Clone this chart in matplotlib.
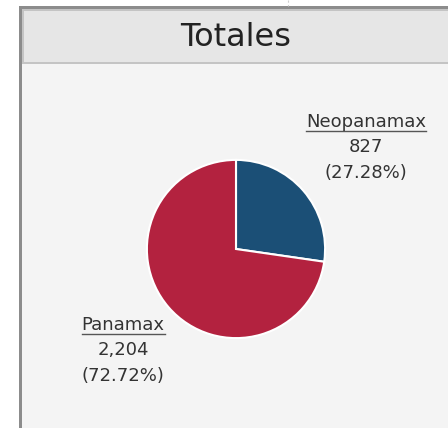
import matplotlib
matplotlib.use("Agg")
import matplotlib.pyplot as plt
from matplotlib.patches import Rectangle
from matplotlib.lines import Line2D

# data
categories = ["Neopanamax", "Panamax"]
values = [827, 2204]
colors = ["#1b4f76", "#b3223f"]

W, H = 448, 428
fig = plt.figure(figsize=(W / 100, H / 100), dpi=100)
fig.patch.set_facecolor("white")


def px(x, y):
    # pixel coords (top-left origin) -> figure fraction
    return x / W, 1 - y / H


# panel frame + header
fig.patches.append(Rectangle(px(19, H), (W - 19) / W, (H - 6) / H,
                             transform=fig.transFigure, facecolor="#8c8c8c",
                             edgecolor="none", zorder=0))
fig.patches.append(Rectangle(px(22, H), (W - 22) / W, (H - 9) / H,
                             transform=fig.transFigure, facecolor="#f4f4f4",
                             edgecolor="none", zorder=1))
fig.patches.append(Rectangle(px(22, 64), (W - 22) / W, 55 / H,
                             transform=fig.transFigure, facecolor="#c4c4c4",
                             edgecolor="none", zorder=2))
fig.patches.append(Rectangle(px(24, 62), (W - 24) / W, 51 / H,
                             transform=fig.transFigure, facecolor="#e6e6e6",
                             edgecolor="none", zorder=3))
# faint dashed guide in the top margin
fig.add_artist(Line2D([288 / W, 288 / W], [1 - 0 / H, 1 - 6 / H],
                      color="#d0d0d0", lw=0.8, ls=(0, (2, 2)), zorder=4))

fig.text(236 / W, 1 - 38 / H, "Totales", ha="center", va="center",
         fontsize=23, color="#222222", zorder=5)

# pie
cx, cy, r = 236, 249, 90
ax = fig.add_axes([(cx - r) / W, 1 - (cy + r) / H, 2 * r / W, 2 * r / H])
ax.pie(values, colors=colors, startangle=90, counterclock=False, radius=1,
       wedgeprops=dict(edgecolor="white", linewidth=1.5))
ax.set_xlim(-1.01, 1.01)
ax.set_ylim(-1.01, 1.01)
ax.set_aspect("equal")
ax.set_zorder(6)

total = sum(values)
label_pos = {"Neopanamax": (366, 122), "Panamax": (123, 325)}

fig.canvas.draw()
renderer = fig.canvas.get_renderer()
for name, v in zip(categories, values):
    x, y = label_pos[name]
    t = fig.text(x / W, 1 - y / H, name, ha="center", va="center",
                 fontsize=13, color="#333333", zorder=7)
    bb = t.get_window_extent(renderer)
    uy = 1 - (y + 9) / H
    fig.add_artist(Line2D([bb.x0 / W, bb.x1 / W], [uy, uy], color="#555555",
                          lw=1, zorder=7))
    fig.text(x / W, 1 - (y + 25) / H, f"{v:,}", ha="center", va="center",
             fontsize=13, color="#333333", zorder=7)
    fig.text(x / W, 1 - (y + 51) / H, f"({v / total * 100:.2f}%)",
             ha="center", va="center", fontsize=13, color="#333333", zorder=7)

fig.savefig("out.png", dpi=100, facecolor=fig.get_facecolor())
